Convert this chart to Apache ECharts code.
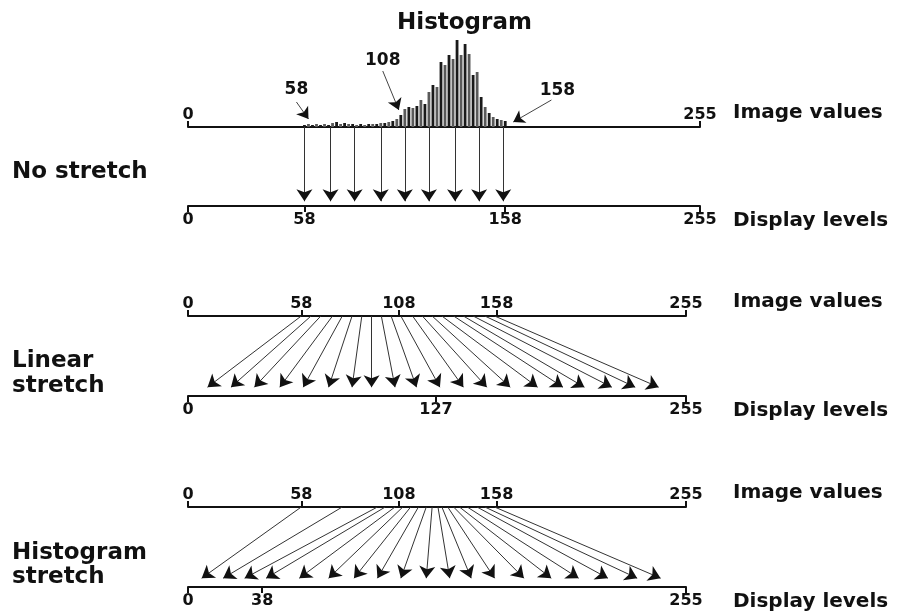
<!DOCTYPE html>
<html>
<head>
<meta charset="utf-8">
<script src="https://cdn.jsdelivr.net/npm/echarts@6/dist/echarts.min.js"></script>
<style>
  html, body { margin: 0; background: #fff; }
  #chart { width: 899px; height: 612px; }
</style>
</head>
<body>
<div id="chart"></div>
<script>
  // histogram of image values (bar heights)
  const histX = [58, 60, 62, 64, 66, 68, 70, 72, 74, 76, 78, 80, 82, 84, 86, 88, 90, 92, 94, 96,
    98, 100, 102, 104, 106, 108, 110, 112, 114, 116, 118, 120, 122, 124, 126, 128, 130, 132, 134,
    136, 138, 140, 142, 144, 146, 148, 150, 152, 154, 156, 158];
  const histY = [2, 3, 2, 3, 2, 3, 2, 4, 5, 3, 4, 3, 3, 2, 3, 2, 3, 3, 3, 4,
    4, 5, 6, 8, 12, 18, 20, 19, 21, 27, 23, 35, 42, 40, 65, 62, 72, 68, 87,
    72, 83, 73, 52, 55, 30, 20, 14, 10, 8, 7, 6];

  // callouts on the histogram
  const calloutText = ["58", "108", "158"];
  const calloutFrom = [[54, 25], [97, 56], [181, 27]];
  const calloutTo = [[60, 8], [105, 17], [162, 5]];
  const calloutLabelPos = [[54, 37], [97, 66], [184, 36]];

  // axis tick labels
  const topImageTicks = [0, 255];
  const imageTicks = [0, 58, 108, 158, 255];
  const noStretchDisplayTicks = [0, 58, 158, 255];
  const linearDisplayTicks = [0, 127, 255];
  const histDisplayTicks = [0, 38, 255];

  // arrows: image value -> display level
  const noStretchFrom = [58, 71, 83, 96, 108, 120, 133, 145, 157];
  const noStretchTo = [58, 71, 83, 96, 108, 120, 133, 145, 157];
  const linearFrom = [58, 63, 68, 74, 79, 84, 89, 94, 99, 104, 109, 115, 120, 125, 130, 136, 141, 146, 152, 157];
  const linearTo = [10, 22, 34, 47, 59, 72, 84, 94, 106, 117, 129, 141, 153, 165, 179, 192, 203, 217, 229, 241];
  const histStretchFrom = [58, 79, 97, 101, 106, 110, 114, 118, 122, 125, 128, 130, 133, 136, 139, 143, 148, 152, 157];
  const histStretchTo = [7, 18, 29, 40, 57, 72, 85, 97, 109, 122, 134, 145, 157, 172, 186, 200, 215, 230, 242];

  const FONT = "DejaVu Sans";
  const chart = echarts.init(document.getElementById("chart"));

  function panelAxes(gridIndex, imgTicks, dispTicks, gap) {
    const common = {
      type: "value",
      gridIndex: gridIndex,
      min: 0,
      max: 255,
      splitLine: { show: false },
      axisLine: { onZero: false, lineStyle: { color: "#111", width: 2 } },
      nameLocation: "end",
      nameGap: gap
    };
    return [
      Object.assign({}, common, {
        position: "top",
        name: "Image values",
        nameTextStyle: { fontFamily: FONT, fontWeight: "bold", fontSize: 20, color: "#111", verticalAlign: "bottom", lineHeight: 28 },
        axisTick: { customValues: imgTicks, length: 6, lineStyle: { color: "#111", width: 2 } },
        axisLabel: { customValues: imgTicks, margin: 4, fontFamily: FONT, fontWeight: "bold", fontSize: 16, color: "#111" }
      }),
      Object.assign({}, common, {
        position: "bottom",
        name: "Display levels",
        nameTextStyle: { fontFamily: FONT, fontWeight: "bold", fontSize: 20, color: "#111", verticalAlign: "top", lineHeight: 30 },
        axisTick: { customValues: dispTicks, length: 6, lineStyle: { color: "#111", width: 2 } },
        axisLabel: { customValues: dispTicks, margin: 6, fontFamily: FONT, fontWeight: "bold", fontSize: 16, color: "#111" }
      })
    ];
  }

  function arrowData(from, to, tipY) {
    return from.map((v, i) => ({ coords: [[v, 1], [to[i], tipY]] }));
  }

  function arrowSeries(axisIdx, yIdx, data) {
    return [
      {
        type: "lines",
        coordinateSystem: "cartesian2d",
        xAxisIndex: axisIdx,
        yAxisIndex: yIdx,
        symbol: ["none", "none"],
        lineStyle: { color: "#333", width: 1, opacity: 1 },
        data: data
      },
      {
        type: "lines",
        coordinateSystem: "cartesian2d",
        xAxisIndex: axisIdx,
        yAxisIndex: yIdx,
        symbol: ["none", "arrow"],
        symbolSize: [9, 12],
        lineStyle: { color: "#111", width: 0, opacity: 1 },
        data: data
      }
    ];
  }

  const xAxes = [
    { type: "value", gridIndex: 0, min: 0, max: 255, show: false }
  ].concat(
    panelAxes(1, topImageTicks, noStretchDisplayTicks, 33),
    panelAxes(2, imageTicks, linearDisplayTicks, 47),
    panelAxes(3, imageTicks, histDisplayTicks, 47)
  );

  const yAxes = [
    { type: "value", gridIndex: 0, min: 0, max: 89, show: false },
    { type: "value", gridIndex: 1, min: 0, max: 1, show: false },
    { type: "value", gridIndex: 2, min: 0, max: 1, show: false },
    { type: "value", gridIndex: 3, min: 0, max: 1, show: false }
  ];

  const titleStyle = { fontFamily: FONT, fontWeight: "bold", fontSize: 23, color: "#111", lineHeight: 25 };

  const option = {
    backgroundColor: "#fff",
    animation: false,
    title: [
      { text: "Histogram", left: 397, top: 11, padding: 0, textStyle: titleStyle },
      { text: "No stretch", left: 12, top: 160, padding: 0, textStyle: titleStyle },
      { text: "Linear\nstretch", left: 12, top: 349, padding: 0, textStyle: titleStyle },
      { text: "Histogram\nstretch", left: 12, top: 541, padding: 0, textStyle: Object.assign({}, titleStyle, { lineHeight: 24 }) }
    ],
    grid: [
      { left: 188, width: 512, top: 38, height: 89, outerBoundsMode: "none" },
      { left: 188, width: 512, top: 127, height: 79, outerBoundsMode: "none" },
      { left: 188, width: 498, top: 316, height: 80, outerBoundsMode: "none" },
      { left: 188, width: 498, top: 507, height: 80, outerBoundsMode: "none" }
    ],
    xAxis: xAxes,
    yAxis: yAxes,
    series: [
      {
        type: "bar",
        xAxisIndex: 0,
        yAxisIndex: 0,
        barWidth: 2.8,
        data: histX.map((x, i) => [x, histY[i]]),
        itemStyle: {
          color: (p) => (p.dataIndex % 2 ? "#5a5a5a" : "#1a1a1a")
        }
      },
      {
        type: "lines",
        coordinateSystem: "cartesian2d",
        xAxisIndex: 0,
        yAxisIndex: 0,
        symbol: ["none", "none"],
        lineStyle: { color: "#444", width: 1, opacity: 1 },
        data: calloutFrom.map((c, i) => ({ coords: [c, calloutTo[i]] }))
      },
      {
        type: "lines",
        coordinateSystem: "cartesian2d",
        xAxisIndex: 0,
        yAxisIndex: 0,
        symbol: ["none", "arrow"],
        symbolSize: [8, 11],
        lineStyle: { color: "#111", width: 0, opacity: 1 },
        data: calloutFrom.map((c, i) => ({ coords: [c, calloutTo[i]] }))
      },
      {
        type: "scatter",
        xAxisIndex: 0,
        yAxisIndex: 0,
        symbolSize: 0,
        itemStyle: { opacity: 1 },
        label: {
          show: true,
          position: "inside",
          formatter: (p) => p.value[2],
          fontFamily: FONT,
          fontWeight: "bold",
          fontSize: 17,
          color: "#111",
          opacity: 1
        },
        data: calloutLabelPos.map((c, i) => [c[0], c[1], calloutText[i]])
      }
    ]
      .concat(arrowSeries(1, 1, arrowData(noStretchFrom, noStretchTo, 0.06)))
      .concat(arrowSeries(3, 2, arrowData(linearFrom, linearTo, 0.11)))
      .concat(arrowSeries(5, 3, arrowData(histStretchFrom, histStretchTo, 0.11)))
  };

  chart.setOption(option);
</script>
</body>
</html>
